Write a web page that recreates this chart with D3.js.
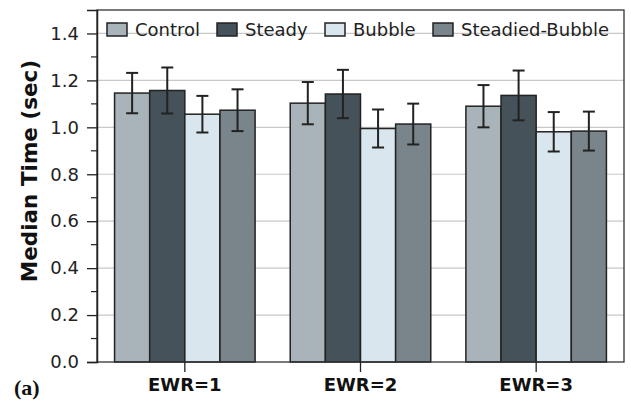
<!DOCTYPE html>
<html><head><meta charset="utf-8">
<script src="https://cdn.jsdelivr.net/npm/d3@7"></script>
<style>body{margin:0;background:#fff}svg{display:block}</style>
</head><body>
<svg id="c" width="631" height="401"></svg>
<script>
const categories = ["EWR=1", "EWR=2", "EWR=3"];
const seriesNames = ["Control", "Steady", "Bubble", "Steadied-Bubble"];
const seriesColors = ["#a9b4ba", "#46525a", "#dae6ed", "#79858b"];
const control = [1.146, 1.103, 1.090];
const steady = [1.157, 1.142, 1.136];
const bubble = [1.056, 0.995, 0.981];
const steadiedBubble = [1.073, 1.014, 0.984];
const controlErr = [0.086, 0.090, 0.090];
const steadyErr = [0.098, 0.103, 0.106];
const bubbleErr = [0.078, 0.081, 0.084];
const steadiedBubbleErr = [0.089, 0.087, 0.083];
const yTicks = [0.0, 0.2, 0.4, 0.6, 0.8, 1.0, 1.2, 1.4];
const yMinorTicks = [0.1, 0.3, 0.5, 0.7, 0.9, 1.1, 1.3];

const values = [control, steady, bubble, steadiedBubble];
const errs = [controlErr, steadyErr, bubbleErr, steadiedBubbleErr];

const svg = d3.select("#c");
const L = 97, R = 624, T = 10, B = 362;
const x = d3.scaleBand().domain(categories).range([L, R]).paddingInner(0.2).paddingOuter(0.1);
const xs = d3.scaleBand().domain(seriesNames).range([0, x.bandwidth()]);
const y = d3.scaleLinear().domain([0, 1.5]).range([B, T]);
const font = "'DejaVu Sans', sans-serif";

// grid
svg.append("g").selectAll("line").data(yTicks.slice(1)).join("line")
  .attr("x1", L).attr("x2", R).attr("y1", d => y(d)).attr("y2", d => y(d))
  .attr("stroke", "#c8c8c8").attr("stroke-width", 1.2);

// bars
const data = [];
categories.forEach((c, i) => seriesNames.forEach((s, j) => data.push({c, s, j, v: values[j][i], e: errs[j][i]})));
svg.append("g").selectAll("rect").data(data).join("rect")
  .attr("x", d => x(d.c) + xs(d.s)).attr("width", xs.bandwidth())
  .attr("y", d => y(d.v)).attr("height", d => y(0) - y(d.v))
  .attr("fill", d => seriesColors[d.j]).attr("stroke", "#222").attr("stroke-width", 1.5);

// error bars
const eg = svg.append("g").attr("stroke", "#222").attr("stroke-width", 2);
data.forEach(d => {
  const cx = x(d.c) + xs(d.s) + xs.bandwidth() / 2;
  eg.append("line").attr("x1", cx).attr("x2", cx).attr("y1", y(d.v - d.e)).attr("y2", y(d.v + d.e));
  [d.v - d.e, d.v + d.e].forEach(v => eg.append("line").attr("x1", cx - 6).attr("x2", cx + 6).attr("y1", y(v)).attr("y2", y(v)));
});

// frame
svg.append("rect").attr("x", L).attr("y", T).attr("width", R - L).attr("height", B - T)
  .attr("fill", "none").attr("stroke", "#333").attr("stroke-width", 1.3);

// y axis
const ya = svg.append("g").attr("transform", `translate(${L},0)`)
  .call(d3.axisLeft(y).tickValues(yTicks).tickFormat(d3.format(".1f")).tickSize(10).tickPadding(8));
ya.select(".domain").attr("stroke", "#222").attr("stroke-width", 1.5);
ya.selectAll(".tick line").attr("stroke", "#222").attr("stroke-width", 1.3);
ya.selectAll("text").attr("font-family", font).attr("font-size", "18px").attr("fill", "#222");
svg.append("g").selectAll("line").data(yMinorTicks).join("line")
  .attr("x1", L - 6).attr("x2", L).attr("y1", d => y(d)).attr("y2", d => y(d))
  .attr("stroke", "#222").attr("stroke-width", 1.2);

// x axis
const xa = svg.append("g").attr("transform", `translate(0,${B})`)
  .call(d3.axisBottom(x).tickSize(10).tickPadding(6));
xa.select(".domain").remove();
xa.selectAll(".tick line").attr("stroke", "#222").attr("stroke-width", 1.3);
xa.selectAll("text").attr("font-family", font).attr("font-size", "18px").attr("font-weight", "bold").attr("fill", "#111");

// y label
svg.append("text").attr("transform", `translate(37,171) rotate(-90)`)
  .attr("text-anchor", "middle").attr("font-family", font).attr("font-weight", "bold")
  .attr("font-size", "21.5px").attr("fill", "#111").text("Median Time (sec)");

// (a)
svg.append("text").attr("x", 14).attr("y", 395).attr("font-family", "'Liberation Serif', serif")
  .attr("font-weight", "bold").attr("font-size", "22px").attr("fill", "#111").text("(a)");

// legend
const legX = [107, 217, 325, 433];
const lg = svg.append("g");
seriesNames.forEach((s, j) => {
  lg.append("rect").attr("x", legX[j]).attr("y", 23).attr("width", 20).attr("height", 13)
    .attr("fill", seriesColors[j]).attr("stroke", "#222").attr("stroke-width", 1.5);
  lg.append("text").attr("x", legX[j] + 28).attr("y", 36).attr("font-family", font)
    .attr("font-size", "18px").attr("fill", "#222").text(s);
});
</script>
</body></html>
